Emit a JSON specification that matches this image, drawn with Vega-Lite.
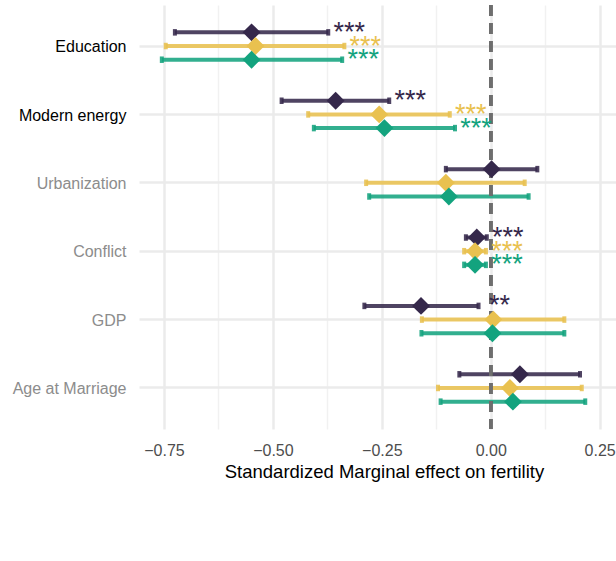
{
  "$schema": "https://vega.github.io/schema/vega-lite/v6.json",
  "width": 477,
  "height": 424,
  "autosize": {"type": "none"},
  "padding": {"left": 139, "top": 5, "right": 0, "bottom": 132},
  "background": "white",
  "config": {
    "view": {"stroke": null},
    "font": "Liberation Sans"
  },
  "data": {
    "values": [
      {"var": "Education", "model": "M1", "est": -0.549, "low": -0.725, "high": -0.373, "stars": "***"},
      {"var": "Education", "model": "M2", "est": -0.540, "low": -0.746, "high": -0.336, "stars": "***"},
      {"var": "Education", "model": "M4", "est": -0.549, "low": -0.755, "high": -0.341, "stars": "***"},
      {"var": "Modern energy", "model": "M1", "est": -0.356, "low": -0.480, "high": -0.233, "stars": "***"},
      {"var": "Modern energy", "model": "M2", "est": -0.256, "low": -0.419, "high": -0.094, "stars": "***"},
      {"var": "Modern energy", "model": "M4", "est": -0.244, "low": -0.406, "high": -0.082, "stars": "***"},
      {"var": "Urbanization", "model": "M1", "est": 0.002, "low": -0.103, "high": 0.107, "stars": ""},
      {"var": "Urbanization", "model": "M2", "est": -0.103, "low": -0.286, "high": 0.078, "stars": ""},
      {"var": "Urbanization", "model": "M4", "est": -0.096, "low": -0.279, "high": 0.087, "stars": ""},
      {"var": "Conflict", "model": "M1", "est": -0.032, "low": -0.057, "high": -0.009, "stars": "***"},
      {"var": "Conflict", "model": "M2", "est": -0.036, "low": -0.061, "high": -0.011, "stars": "***"},
      {"var": "Conflict", "model": "M4", "est": -0.036, "low": -0.061, "high": -0.011, "stars": "***"},
      {"var": "GDP", "model": "M1", "est": -0.160, "low": -0.290, "high": -0.028, "stars": "**"},
      {"var": "GDP", "model": "M2", "est": 0.006, "low": -0.158, "high": 0.169, "stars": ""},
      {"var": "GDP", "model": "M4", "est": 0.004, "low": -0.159, "high": 0.169, "stars": ""},
      {"var": "Age at Marriage", "model": "M1", "est": 0.067, "low": -0.072, "high": 0.205, "stars": ""},
      {"var": "Age at Marriage", "model": "M2", "est": 0.044, "low": -0.121, "high": 0.209, "stars": ""},
      {"var": "Age at Marriage", "model": "M4", "est": 0.051, "low": -0.115, "high": 0.217, "stars": ""}
    ]
  },
  "layer": [
    {
      "encoding": {
        "y": {
          "field": "var", "type": "nominal",
          "sort": ["Education", "Modern energy", "Urbanization", "Conflict", "GDP", "Age at Marriage"],
          "scale": {"type": "band", "paddingInner": 0, "paddingOuter": 0.1},
          "axis": {
            "title": null, "domain": false, "ticks": false, "tickSize": 0,
            "labelPadding": 13, "labelFontSize": 16, "labelBaseline": "alphabetic", "labelOffset": 6.3,
            "labelFont": "Liberation Sans",
            "labelColor": {"condition": {"test": "datum.value === 'Education' || datum.value === 'Modern energy'", "value": "#000000"}, "value": "#8C8C8C"},
            "gridColor": "#EBEBEB", "gridWidth": 2.5, "grid": true
          }
        },
        "yOffset": {"field": "model", "type": "nominal", "sort": ["M1", "M2", "M4"], "scale": {"type": "band", "paddingInner": 0, "paddingOuter": 1}},
        "stroke": {
          "field": "model", "type": "nominal", "title": null,
          "scale": {"domain": ["M1", "M2", "M4"], "range": ["#35284B", "#E9C14F", "#13A37E"]},
          "legend": null
        }
      },
      "layer": [
        {
          "mark": {"type": "rule", "strokeWidth": 4, "opacity": 0.87},
          "encoding": {
            "x": {
              "field": "low", "type": "quantitative",
              "title": "Standardized Marginal effect on fertility",
              "scale": {"domain": [-0.8074, 0.2876], "nice": false, "zero": false},
              "axis": {
                "values": [-0.75, -0.625, -0.5, -0.375, -0.25, -0.125, 0, 0.125, 0.25],
                "labelExpr": "abs(datum.value*4 - round(datum.value*4)) < 0.001 ? format(datum.value, '.2f') : ''",
                "domain": false, "ticks": false, "tickSize": 0,
                "labelPadding": 26, "labelBaseline": "alphabetic", "labelFontSize": 16, "labelColor": "#4D4D4D",
                "labelFont": "Liberation Sans", "labelFlush": false, "labelOverlap": false,
                "gridColor": {"condition": {"test": "abs(datum.value*4 - round(datum.value*4)) < 0.001", "value": "#EBEBEB"}, "value": "#F1F1F1"},
                "gridWidth": {"condition": {"test": "abs(datum.value*4 - round(datum.value*4)) < 0.001", "value": 2.5}, "value": 1.4},
                "titleFontSize": 18.5, "titleColor": "#000000", "titleFontWeight": "normal", "titleFont": "Liberation Sans",
                "titleX": 245, "titleY": 48.5, "titleBaseline": "alphabetic", "titleAlign": "center"
              }
            },
            "x2": {"field": "high"}
          }
        },
        {
          "mark": {"type": "tick", "thickness": 4, "size": 6.5, "opacity": 0.87, "filled": false, "strokeWidth": 0.01},
          "encoding": {
            "x": {"field": "low", "type": "quantitative", "title": "Standardized Marginal effect on fertility"},
            "fill": {"field": "model", "type": "nominal", "scale": {"domain": ["M1", "M2", "M4"], "range": ["#35284B", "#E9C14F", "#13A37E"]}, "legend": null}
          }
        },
        {
          "mark": {"type": "tick", "thickness": 4, "size": 6.5, "opacity": 0.87, "filled": false, "strokeWidth": 0.01},
          "encoding": {
            "x": {"field": "high", "type": "quantitative", "title": "Standardized Marginal effect on fertility"},
            "fill": {"field": "model", "type": "nominal", "scale": {"domain": ["M1", "M2", "M4"], "range": ["#35284B", "#E9C14F", "#13A37E"]}, "legend": null}
          }
        }
      ]
    },
    {
      "mark": {"type": "rule", "color": "#6E6E6E", "strokeWidth": 2.8, "strokeDash": [11, 7]},
      "encoding": {"x": {"datum": 0, "type": "quantitative"}}
    },
    {
      "encoding": {
        "y": {"field": "var", "type": "nominal", "sort": ["Education", "Modern energy", "Urbanization", "Conflict", "GDP", "Age at Marriage"]},
        "yOffset": {"field": "model", "type": "nominal", "sort": ["M1", "M2", "M4"]}
      },
      "layer": [
        {
          "mark": {"type": "point", "shape": "diamond", "filled": true, "size": 320, "opacity": 1, "stroke": "#000000"},
          "encoding": {
            "x": {"field": "est", "type": "quantitative", "title": "Standardized Marginal effect on fertility"},
            "strokeWidth": {"value": 0},
            "color": {
              "field": "model", "type": "nominal", "title": null,
              "scale": {"domain": ["M1", "M2", "M4"], "range": ["#35284B", "#E9C14F", "#13A37E"]},
              "legend": {
                "orient": "none", "legendX": 137.7, "legendY": 535, "direction": "horizontal", "title": null,
                "symbolType": "diamond", "symbolSize": 324, "symbolStrokeColor": "#000000", "symbolStrokeWidth": 1.5,
                "symbolOpacity": 1, "labelFontSize": 15.5, "labelColor": "#000000", "labelOffset": 23, "columnPadding": 17,
                "padding": 0, "labelFont": "Liberation Sans"
              }
            }
          }
        },
        {
          "mark": {"type": "text", "align": "center", "baseline": "alphabetic", "dx": 21, "dy": 8.5, "fontSize": 27, "font": "Liberation Sans"},
          "encoding": {
            "x": {"field": "high", "type": "quantitative", "title": "Standardized Marginal effect on fertility"},
            "text": {"field": "stars"},
            "fill": {"field": "model", "type": "nominal", "scale": {"domain": ["M1", "M2", "M4"], "range": ["#35284B", "#E9C14F", "#13A37E"]}, "legend": null}
          }
        }
      ]
    }
  ]
}
